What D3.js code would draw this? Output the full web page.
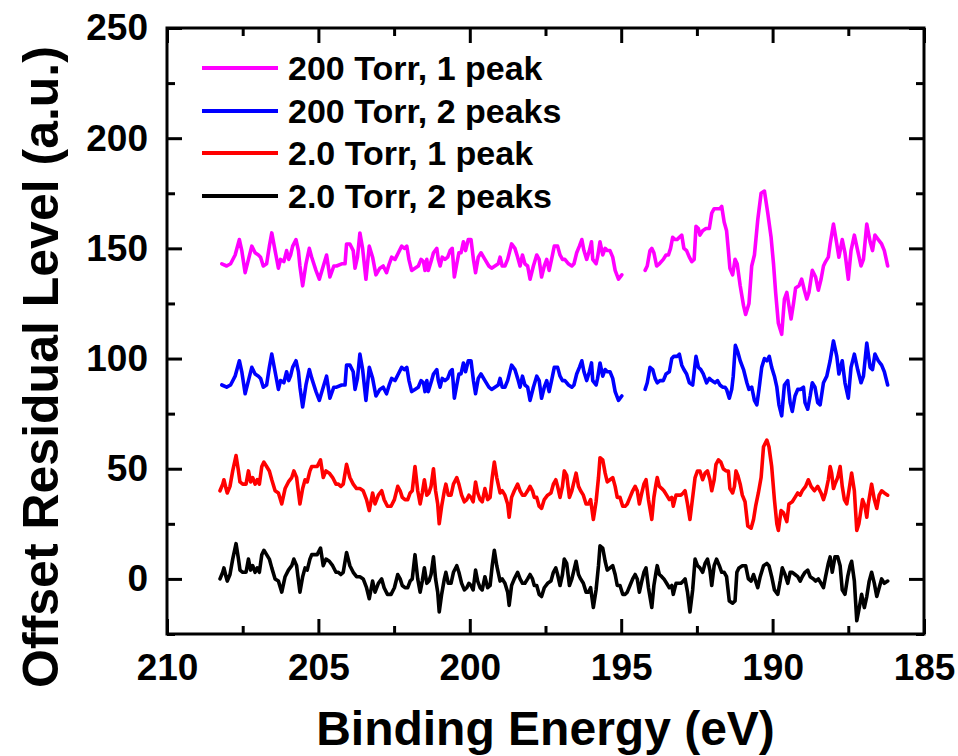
<!DOCTYPE html>
<html><head><meta charset="utf-8">
<script src="https://cdn.jsdelivr.net/npm/d3@7"></script>
<style>
body{margin:0;background:#fff}
svg{display:block}
text{font-family:"Liberation Sans",Arial,sans-serif;font-weight:bold;fill:#000}
</style>
</head><body><svg id="c" width="958" height="756"></svg>
<script>
// ---------------- DATA ----------------
const seriesNames = ["200 Torr, 1 peak", "200 Torr, 2 peaks", "2.0 Torr, 1 peak", "2.0 Torr, 2 peaks"];
const seriesColors = ["#ff00ff", "#0000ff", "#ff0000", "#000000"];
const xTickLabels = [210, 205, 200, 195, 190, 185];
const yTickLabels = [0, 50, 100, 150, 200, 250];
const xMinorTicks = [207.5, 202.5, 197.5, 192.5, 187.5];
const yMinorTicks = [-25, 25, 75, 125, 175, 225];

// 200 Torr, left segment (shared energies for 1 peak / 2 peaks)
const energy200Left = [208.19,208.03,207.90,207.75,207.61,207.53,207.42,207.31,207.20,207.09,206.98,206.91,206.82,206.71,206.62,206.54,206.43,206.32,206.25,206.14,206.05,205.98,205.92,205.85,205.74,205.66,205.61,205.52,205.41,205.30,205.22,205.08,204.97,204.84,204.73,204.62,204.49,204.40,204.23,204.12,204.07,203.96,203.85,203.79,203.71,203.63,203.54,203.43,203.32,203.21,203.10,202.97,202.86,202.75,202.66,202.58,202.47,202.36,202.25,202.16,202.08,202.01,201.92,201.81,201.70,201.61,201.53,201.48,201.42,201.37,201.26,201.20,201.09,201.04,200.98,200.91,200.82,200.73,200.65,200.58,200.51,200.43,200.36,200.29,200.21,200.14,200.05,199.96,199.88,199.81,199.72,199.63,199.50,199.37,199.28,199.17,199.06,199.00,198.93,198.84,198.75,198.62,198.51,198.42,198.34,198.26,198.18,198.09,198.01,197.90,197.79,197.71,197.63,197.54,197.46,197.38,197.30,197.21,197.10,197.02,196.94,196.86,196.74,196.63,196.56,196.47,196.38,196.30,196.23,196.14,196.05,195.98,195.94,195.83,195.78,195.70,195.61,195.53,195.46,195.37,195.28,195.20,195.09,194.98];
const torr200OnePeakLeft = [143,142,143,147,154,149,139,145,151,148,147,146,142,143,151,157,149,141,145,144,149,145,147,151,154,149,142,133,143,150,146,140,136,142,147,137,142,142,143,143,152,152,149,141,146,157,150,136,151,146,138,141,142,139,143,146,145,148,151,150,151,145,140,141,142,145,144,140,145,140,145,148,150,145,142,146,145,146,149,150,137,143,148,148,153,149,154,154,145,139,146,148,145,142,141,142,143,146,142,142,145,152,150,146,142,147,143,142,136,142,147,145,137,142,145,140,145,151,151,147,145,145,143,142,143,148,151,154,149,145,149,153,145,143,146,153,147,150,149,149,146,140,136,138];
const torr200TwoPeaksLeft = [88,87,88,92,99,94,84,90,96,93,92,91,87,88,96,102,94,86,90,89,94,90,92,96,99,94,87,78,88,95,91,85,81,87,92,82,87,87,88,88,97,97,94,86,91,102,95,81,96,91,83,86,87,84,88,91,90,93,96,95,96,90,85,86,87,90,89,85,90,85,90,93,95,90,87,91,90,91,94,95,82,88,93,93,98,94,99,99,90,84,91,93,90,87,86,87,88,91,87,87,90,97,95,91,87,92,88,87,81,87,92,90,82,87,90,85,90,96,96,92,90,90,88,87,88,93,96,99,94,90,94,98,90,88,91,98,92,95,94,94,91,85,81,83];

// 200 Torr, 1 peak, right segment
const energy200OnePeakRight = [194.21,194.14,194.05,193.99,193.92,193.83,193.74,193.61,193.52,193.44,193.37,193.30,193.22,193.15,193.08,193.00,192.93,192.84,192.75,192.67,192.59,192.53,192.45,192.40,192.31,192.20,192.09,192.01,191.93,191.82,191.74,191.68,191.60,191.52,191.46,191.41,191.32,191.24,191.17,191.07,190.96,190.89,190.78,190.69,190.60,190.49,190.38,190.27,190.16,190.05,189.97,189.90,189.81,189.70,189.61,189.53,189.46,189.39,189.31,189.24,189.13,189.04,188.95,188.87,188.80,188.69,188.58,188.49,188.40,188.32,188.25,188.16,188.10,187.99,187.88,187.81,187.70,187.61,187.50,187.41,187.30,187.19,187.08,187.00,186.89,186.78,186.70,186.62,186.51,186.40,186.31,186.20];
const torr200OnePeakRight = [140,142,149,150,148,142,143,145,147,147,150,155,154,154,155,156,150,149,146,144,145,160,159,156,158,159,159,166,168,168,168,169,162,158,149,141,138,145,143,133,124,120,125,142,147,163,175,176,166,155,143,130,116,111,127,130,124,118,125,132,133,136,131,127,130,140,137,131,136,142,144,146,152,161,152,146,154,148,136,149,156,149,142,145,161,153,149,156,154,152,149,142];

// 200 Torr, 2 peaks, right segment
const energy200TwoPeaksRight = [194.21,194.14,194.05,193.96,193.88,193.81,193.72,193.61,193.52,193.41,193.33,193.26,193.15,193.08,193.00,192.93,192.84,192.75,192.64,192.53,192.45,192.37,192.29,192.18,192.09,192.01,191.90,191.82,191.74,191.65,191.57,191.52,191.43,191.35,191.30,191.23,191.15,191.07,190.96,190.85,190.78,190.69,190.60,190.52,190.45,190.36,190.27,190.19,190.11,190.03,189.94,189.86,189.79,189.70,189.61,189.50,189.42,189.35,189.26,189.17,189.09,188.98,188.93,188.84,188.76,188.69,188.60,188.51,188.43,188.32,188.21,188.10,187.99,187.88,187.81,187.70,187.61,187.50,187.41,187.30,187.19,187.08,187.00,186.89,186.78,186.70,186.62,186.51,186.40,186.31,186.20];
const torr200TwoPeaksRight = [86,89,96,95,91,89,90,90,93,94,100,101,101,102,97,95,93,89,88,101,96,95,93,89,91,90,89,90,88,87,87,86,82,86,92,106,103,99,95,89,86,87,81,79,86,96,100,99,101,96,92,87,79,74,88,90,80,76,83,86,86,87,80,77,83,89,87,80,79,89,92,99,108,101,93,99,89,82,96,102,95,89,92,107,96,95,102,99,97,94,88];

// 2.0 Torr, 1 peak
const energy2TorrOnePeak = [208.25,208.16,208.12,208.05,208.01,207.92,207.83,207.72,207.64,207.59,207.50,207.39,207.31,207.24,207.17,207.09,207.02,206.95,206.87,206.80,206.71,206.62,206.54,206.43,206.32,206.21,206.10,205.99,205.88,205.81,205.72,205.61,205.52,205.44,205.37,205.28,205.22,205.11,205.04,204.93,204.84,204.75,204.64,204.53,204.42,204.34,204.26,204.18,204.07,203.96,203.85,203.74,203.63,203.52,203.41,203.32,203.21,203.13,203.02,202.91,202.83,202.72,202.60,202.49,202.38,202.30,202.23,202.14,202.05,201.97,201.90,201.81,201.72,201.64,201.57,201.50,201.42,201.35,201.28,201.20,201.13,201.06,201.01,200.93,200.84,200.79,200.71,200.62,200.54,200.43,200.36,200.27,200.18,200.10,200.03,199.96,199.89,199.81,199.74,199.66,199.59,199.50,199.41,199.33,199.26,199.19,199.11,199.00,198.93,198.84,198.75,198.70,198.62,198.53,198.42,198.34,198.26,198.18,198.09,198.01,197.93,197.87,197.79,197.71,197.63,197.54,197.43,197.32,197.24,197.16,197.10,197.02,196.94,196.88,196.80,196.71,196.63,196.56,196.49,196.41,196.34,196.25,196.16,196.08,196.01,195.92,195.83,195.75,195.70,195.61,195.53,195.46,195.37,195.28,195.20,195.13,195.04,194.95,194.87,194.80,194.71,194.62,194.54,194.47,194.40,194.32,194.25,194.18,194.10,193.99,193.92,193.85,193.81,193.74,193.66,193.59,193.50,193.41,193.33,193.28,193.19,193.11,193.03,192.95,192.89,192.81,192.73,192.64,192.56,192.48,192.40,192.31,192.23,192.15,192.07,192.01,191.93,191.87,191.79,191.71,191.63,191.54,191.46,191.41,191.32,191.26,191.21,191.15,191.07,191.00,190.91,190.82,190.71,190.63,190.56,190.47,190.38,190.30,190.19,190.12,190.03,189.94,189.86,189.81,189.72,189.64,189.53,189.46,189.35,189.26,189.17,189.09,189.02,188.91,188.82,188.73,188.62,188.51,188.40,188.32,188.25,188.16,188.10,188.05,187.99,187.94,187.85,187.77,187.70,187.63,187.55,187.48,187.39,187.30,187.22,187.15,187.03,186.95,186.89,186.84,186.73,186.64,186.56,186.48,186.40,186.31,186.20];
const torr2OnePeak = [40,43,45,41,39,42,49,56,49,44,43,43,49,44,46,43,45,43,51,53,51,49,45,40,39,34,41,44,46,49,46,34,41,45,44,49,51,51,51,54,46,49,48,46,43,43,42,43,52,46,43,41,41,40,36,31,39,34,38,40,36,33,33,36,42,40,37,36,36,39,40,51,40,34,39,45,38,39,42,50,40,34,25,33,40,43,38,38,43,46,43,38,35,36,38,37,35,44,39,36,35,41,36,37,46,53,46,39,40,38,34,28,37,40,43,40,38,38,40,42,40,37,37,33,32,36,38,39,43,45,42,37,42,49,47,37,40,44,48,42,40,38,34,34,36,27,35,46,55,54,48,44,45,46,42,37,37,33,33,34,37,40,42,40,34,39,43,45,36,27,37,43,46,42,41,40,38,36,37,33,38,38,38,39,40,34,27,37,46,49,49,45,48,49,45,40,45,52,54,53,50,49,49,41,39,42,49,47,43,38,35,24,23,27,33,39,46,60,63,60,51,36,25,22,31,30,26,34,35,37,39,38,40,42,45,42,40,42,39,36,39,45,51,48,41,43,46,51,42,36,34,40,48,40,22,25,36,33,28,34,43,36,32,38,40,39,38];

// 2.0 Torr, 2 peaks
const energy2TorrTwoPeaks = [208.25,208.16,208.12,208.05,208.01,207.92,207.83,207.72,207.64,207.59,207.50,207.39,207.31,207.24,207.17,207.09,207.02,206.95,206.87,206.80,206.71,206.62,206.54,206.43,206.32,206.21,206.10,205.99,205.88,205.81,205.72,205.61,205.52,205.44,205.37,205.28,205.22,205.11,205.04,204.93,204.84,204.75,204.64,204.53,204.42,204.34,204.26,204.18,204.07,203.96,203.85,203.74,203.63,203.52,203.41,203.32,203.21,203.13,203.02,202.91,202.83,202.72,202.60,202.49,202.38,202.30,202.23,202.14,202.05,201.97,201.90,201.81,201.72,201.64,201.57,201.50,201.42,201.35,201.28,201.20,201.13,201.06,201.01,200.93,200.84,200.79,200.71,200.62,200.54,200.43,200.36,200.27,200.18,200.10,200.03,199.96,199.89,199.81,199.74,199.66,199.59,199.50,199.41,199.33,199.26,199.19,199.11,199.00,198.93,198.84,198.75,198.70,198.62,198.53,198.42,198.34,198.26,198.18,198.09,198.01,197.93,197.87,197.79,197.71,197.63,197.54,197.43,197.32,197.24,197.16,197.10,197.02,196.94,196.88,196.80,196.71,196.63,196.56,196.49,196.41,196.34,196.25,196.16,196.08,196.01,195.92,195.83,195.75,195.70,195.61,195.53,195.46,195.37,195.28,195.20,195.13,195.04,194.95,194.87,194.80,194.71,194.62,194.54,194.47,194.40,194.32,194.25,194.18,194.10,193.99,193.92,193.85,193.81,193.74,193.66,193.59,193.50,193.41,193.33,193.28,193.19,193.11,193.03,192.95,192.89,192.81,192.73,192.64,192.56,192.48,192.40,192.31,192.23,192.15,192.07,192.01,191.93,191.85,191.76,191.68,191.60,191.52,191.43,191.32,191.24,191.18,191.11,191.00,190.89,190.80,190.71,190.63,190.56,190.49,190.41,190.30,190.19,190.12,190.03,189.94,189.83,189.75,189.68,189.59,189.50,189.42,189.35,189.26,189.17,189.09,189.02,188.93,188.84,188.76,188.65,188.58,188.49,188.40,188.32,188.25,188.16,188.10,188.03,187.94,187.85,187.77,187.70,187.61,187.52,187.44,187.39,187.30,187.22,187.15,187.06,186.97,186.89,186.81,186.73,186.64,186.56,186.48,186.40,186.31,186.20];
const torr2TwoPeaks = [0,3,5,1,-1,2,9,16,9,4,3,3,9,4,6,3,5,3,11,13,11,9,5,0,-1,-6,1,4,6,9,6,-6,1,5,4,9,11,11,11,14,6,9,8,6,3,3,2,3,12,6,3,1,1,0,-4,-9,-1,-6,-2,0,-4,-7,-7,-4,2,0,-3,-4,-4,-1,0,11,0,-6,-1,5,-2,-1,2,10,0,-6,-15,-7,0,3,-2,-2,3,6,3,-2,-5,-4,-2,-3,-5,4,-1,-4,-5,1,-4,-3,6,13,6,-1,0,-2,-6,-12,-3,0,3,0,-2,-2,0,2,0,-3,-3,-7,-8,-4,-2,-1,3,5,2,-3,2,9,7,-3,0,4,8,2,0,-2,-6,-6,-4,-13,-5,6,15,14,8,4,5,6,2,-3,-3,-7,-7,-6,-3,0,2,0,-6,-1,3,5,-4,-13,-3,3,6,2,1,0,-2,-4,-3,-7,-2,-2,-2,-1,0,-6,-15,-5,9,6,5,3,7,9,4,-3,6,9,6,3,3,1,-10,-11,-10,3,5,6,6,0,-1,2,-1,-4,1,6,7,6,1,-5,-7,-1,5,2,-2,3,3,2,1,-1,1,3,4,1,0,-1,0,-2,-4,1,7,10,3,10,10,6,-5,-7,1,6,8,-1,-19,-14,-7,-13,-8,-1,3,-2,-8,-4,0,-2,-1];

// ---------------- CHART ----------------
const plot = {left: 167, right: 924, top: 28, bottom: 634};
const x = d3.scaleLinear().domain([210, 185]).range([plot.left, plot.right]);
const y = d3.scaleLinear().domain([-25, 250]).range([plot.bottom, plot.top]);
const svg = d3.select("#c");

const pair = (es, vs) => es.map((e, i) => [e, vs[i]]);
const series = [
  {name: seriesNames[0], color: seriesColors[0], segs: [pair(energy200Left, torr200OnePeakLeft), pair(energy200OnePeakRight, torr200OnePeakRight)]},
  {name: seriesNames[1], color: seriesColors[1], segs: [pair(energy200Left, torr200TwoPeaksLeft), pair(energy200TwoPeaksRight, torr200TwoPeaksRight)]},
  {name: seriesNames[2], color: seriesColors[2], segs: [pair(energy2TorrOnePeak, torr2OnePeak)]},
  {name: seriesNames[3], color: seriesColors[3], segs: [pair(energy2TorrTwoPeaks, torr2TwoPeaks)]}
];

const line = d3.line().x(d => x(d[0])).y(d => y(d[1]));
const gLines = svg.append("g");
series.slice().reverse().forEach(s => {
  s.segs.forEach(seg => {
    gLines.append("path").datum(seg).attr("d", line)
      .attr("fill", "none").attr("stroke", s.color).attr("stroke-width", 3.6)
      .attr("stroke-linejoin", "round").attr("stroke-linecap", "round");
  });
});

// axes (ticks inward on all four sides)
function styleAxis(g) {
  g.select(".domain").remove();
  g.selectAll(".tick line").attr("stroke", "#000").attr("stroke-width", 3);
  g.selectAll("text").style("font-size", "37px").style("font-weight", "bold")
    .style("font-family", '"Liberation Sans", Arial, sans-serif').attr("fill", "#000");
}
svg.append("g").attr("transform", `translate(0,${plot.bottom})`)
  .call(d3.axisBottom(x).tickValues(xTickLabels).tickSizeInner(-15).tickSizeOuter(0).tickPadding(20).tickFormat(d3.format("d")))
  .call(styleAxis);
svg.append("g").attr("transform", `translate(0,${plot.bottom})`)
  .call(d3.axisBottom(x).tickValues(xMinorTicks).tickSizeInner(-8).tickSizeOuter(0).tickFormat(""))
  .call(styleAxis);
svg.append("g").attr("transform", `translate(0,${plot.top})`)
  .call(d3.axisTop(x).tickValues(xTickLabels).tickSizeInner(-15).tickSizeOuter(0).tickFormat(""))
  .call(styleAxis);
svg.append("g").attr("transform", `translate(0,${plot.top})`)
  .call(d3.axisTop(x).tickValues(xMinorTicks).tickSizeInner(-8).tickSizeOuter(0).tickFormat(""))
  .call(styleAxis);
svg.append("g").attr("transform", `translate(${plot.left},0)`)
  .call(d3.axisLeft(y).tickValues(yTickLabels).tickSizeInner(-15).tickSizeOuter(0).tickPadding(19).tickFormat(d3.format("d")))
  .call(styleAxis);
svg.append("g").attr("transform", `translate(${plot.left},0)`)
  .call(d3.axisLeft(y).tickValues(yMinorTicks).tickSizeInner(-8).tickSizeOuter(0).tickFormat(""))
  .call(styleAxis);
svg.append("g").attr("transform", `translate(${plot.right},0)`)
  .call(d3.axisRight(y).tickValues(yTickLabels).tickSizeInner(-15).tickSizeOuter(0).tickFormat(""))
  .call(styleAxis);
svg.append("g").attr("transform", `translate(${plot.right},0)`)
  .call(d3.axisRight(y).tickValues(yMinorTicks).tickSizeInner(-8).tickSizeOuter(0).tickFormat(""))
  .call(styleAxis);

// frame
svg.append("rect").attr("x", plot.left).attr("y", plot.top)
  .attr("width", plot.right - plot.left).attr("height", plot.bottom - plot.top)
  .attr("fill", "none").attr("stroke", "#000").attr("stroke-width", 3);

// axis titles
svg.append("text").attr("x", (plot.left + plot.right) / 2).attr("y", 745)
  .attr("text-anchor", "middle").style("font-size", "48px").text("Binding Energy (eV)");
svg.append("text").attr("transform", "translate(58,367) rotate(-90)")
  .attr("text-anchor", "middle").style("font-size", "50px").text("Offset Residual Level (a.u.)");

// legend
const legendY = [68, 111, 153, 196];
const lg = svg.append("g");
series.forEach((s, i) => {
  lg.append("line").attr("x1", 202).attr("x2", 278).attr("y1", legendY[i]).attr("y2", legendY[i])
    .attr("stroke", s.color).attr("stroke-width", 4);
  lg.append("text").attr("x", 288).attr("y", legendY[i] + 12).style("font-size", "34px").text(s.name);
});
</script>
</body></html>
